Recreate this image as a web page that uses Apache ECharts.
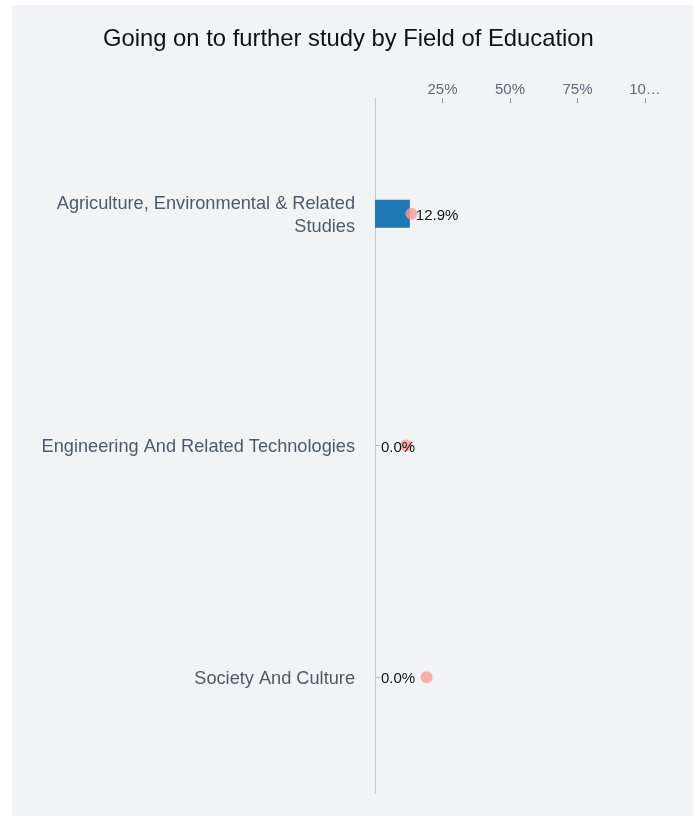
<!DOCTYPE html>
<html>
<head>
<meta charset="utf-8">
<script src="https://cdn.jsdelivr.net/npm/echarts@6/dist/echarts.min.js"></script>
<style>
  html, body { margin: 0; padding: 0; background: #fff; }
  #chart { position: absolute; left: 12px; top: 5px; width: 681px; height: 811px; background: #f2f3f5; }
</style>
</head>
<body>
<div id="chart"></div>
<script>
const fields = [
  'Agriculture, Environmental & Related Studies',
  'Engineering And Related Technologies',
  'Society And Culture'
]
const furtherStudy = [12.9, 0, 0]
const benchmark = [13.5, 11.5, 19.1]

const font = 'Liberation Sans'
const labelSize = 18.2

// word-wrap a category name to a max pixel width
const ctx = document.createElement('canvas').getContext('2d')
ctx.font = labelSize + 'px "' + font + '"'
const wrap = (text, maxWidth) => {
  const lines = []
  let line = ''
  text.split(' ').forEach(word => {
    const next = line ? line + ' ' + word : word
    if (line && ctx.measureText(next).width > maxWidth) {
      lines.push(line)
      line = word
    } else {
      line = next
    }
  })
  lines.push(line)
  return lines.join('\n')
}

const chart = echarts.init(document.getElementById('chart'))
chart.setOption({
  backgroundColor: '#f2f3f5',
  title: {
    text: 'Going on to further study by Field of Education',
    left: 86,
    top: 17,
    textStyle: { color: '#111', fontSize: 23.8, fontWeight: 'normal', fontFamily: font }
  },
  grid: { left: 363, right: 48, top: 93, bottom: 23 },
  xAxis: {
    type: 'value',
    position: 'top',
    min: 0,
    max: 100,
    interval: 25,
    splitLine: { show: false },
    axisLine: { show: false },
    axisTick: { show: true, inside: true, length: 5, lineStyle: { color: '#8c96a0' } },
    axisLabel: {
      showMinLabel: false,
      formatter: v => v + '%',
      color: '#5b6b7a',
      fontSize: 15,
      fontFamily: font,
      width: 34,
      overflow: 'truncate',
      ellipsis: '…',
      margin: 1
    }
  },
  yAxis: {
    type: 'category',
    inverse: true,
    data: fields,
    axisLine: { show: true, lineStyle: { color: '#c4c8cc' } },
    axisTick: { show: true, inside: true, alignWithLabel: true, length: 5, lineStyle: { color: '#b4bac0' } },
    axisLabel: {
      margin: 20,
      formatter: v => '{t|' + wrap(v, 330).split('\n').join('}\n{t|') + '}',
      rich: {
        t: {
          color: '#4d5b69',
          fontSize: labelSize,
          fontFamily: font,
          lineHeight: 23,
          padding: [3, 0, 0, 0],
          align: 'right'
        }
      }
    }
  },
  series: [
    {
      type: 'bar',
      data: furtherStudy,
      barWidth: 28,
      itemStyle: { color: '#1f77b4' },
      z: 2
    },
    {
      type: 'scatter',
      data: benchmark,
      symbolSize: 12,
      itemStyle: { color: '#ff9a9a' },
      z: 3
    },
    {
      // value labels drawn above the dots
      type: 'bar',
      data: furtherStudy,
      barWidth: 28,
      barGap: '-100%',
      itemStyle: { color: 'rgba(0,0,0,0)' },
      label: {
        show: true,
        position: 'right',
        distance: 6,
        offset: [0, 2],
        formatter: p => p.value.toFixed(1) + '%',
        color: '#111',
        fontSize: 15,
        fontFamily: font
      },
      silent: true,
      z: 4
    }
  ]
})
</script>
</body>
</html>
